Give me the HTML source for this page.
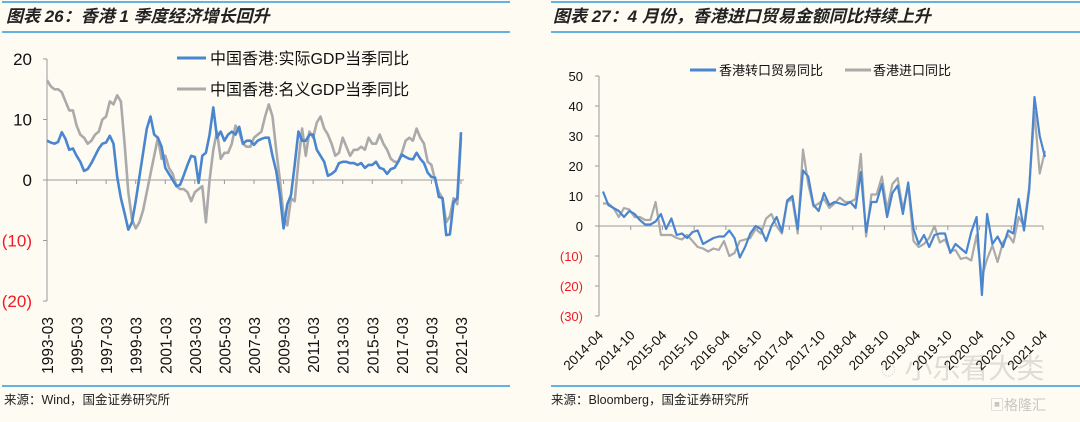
<!DOCTYPE html>
<html><head><meta charset="utf-8"><style>
html,body{margin:0;padding:0;background:#fefbf2;}
svg{display:block;font-family:"Liberation Sans","Noto Sans CJK SC",sans-serif;}
</style></head><body>
<svg id="svg" width="1080" height="422" viewBox="0 0 1080 422">
<rect width="1080" height="422" fill="#fefbf2"/>
<line x1="2" y1="2" x2="510" y2="2" stroke="#2f9be0" stroke-width="1.5"/>
<text x="6" y="22" font-size="17" font-style="italic" font-weight="bold" fill="#222">图表 26：香港 1 季度经济增长回升</text>
<line x1="2" y1="32" x2="510" y2="32" stroke="#2f9be0" stroke-width="1.5"/>
<line x1="2" y1="386" x2="510" y2="386" stroke="#2f9be0" stroke-width="1.5"/>
<text x="4" y="404" font-size="12.5" fill="#222">来源：Wind，国金证券研究所</text>
<line x1="551" y1="2" x2="1080" y2="2" stroke="#2f9be0" stroke-width="1.5"/>
<text x="553" y="22" font-size="17" font-style="italic" font-weight="bold" fill="#222">图表 27：4 月份，香港进口贸易金额同比持续上升</text>
<line x1="551" y1="32" x2="1080" y2="32" stroke="#2f9be0" stroke-width="1.5"/>
<line x1="551" y1="386" x2="1080" y2="386" stroke="#2f9be0" stroke-width="1.5"/>
<text x="551" y="404" font-size="12.5" fill="#222">来源：Bloomberg，国金证券研究所</text>
<text x="880" y="378" font-size="28" fill="#d8d6d0" opacity="0.8">◌ 小乐看大类</text>
<text x="990" y="410" font-size="14" fill="#c8c6c0">▣格隆汇</text>
<g id="left"></g>
<g id="right"></g>
</svg>
<script>
const NS="http://www.w3.org/2000/svg";
function mk(parent,tag,attrs,txt){const e=document.createElementNS(NS,tag);for(const k in attrs)e.setAttribute(k,attrs[k]);if(txt!==undefined)e.textContent=txt;parent.appendChild(e);return e;}

const leftYTicks=[20,10,0,-10,-20];
const leftYLabels=["20","10","0","(10)","(20)"];
const leftXLabels=["1993-03","1995-03","1997-03","1999-03","2001-03","2003-03","2005-03","2007-03","2009-03","2011-03","2013-03","2015-03","2017-03","2019-03","2021-03"];
const realGDP=[6.5,6.2,6.0,6.3, 7.9,6.8,5.0,5.2, 4.0,3.0,1.5,1.8, 2.8,4.0,5.2,6.0, 6.2,7.3,6.0,0.5,
 -3,-5.5,-8.2,-7.0, -3.5,0.5,4.5,8.5, 10.5,7.5,7.0,5.5, 2.0,1.0,0.0,-1.0, -0.8,0.8,2.5,4.0,
 3.8,-0.5,4.0,4.5, 7.5,12.0,7.0,8.0, 6.5,7.5,8.0,7.5, 8.8,6.0,6.5,6.5, 5.8,6.5,6.8,7.0,
 7.0,4.0,1.5,-2.5, -8,-4,-2.5,2.5, 8.0,6.5,6.5,7.5, 7.5,5.0,4.0,3.0, 0.7,1.0,1.5,2.8,
 3.0,3.0,2.8,2.8, 2.5,2.8,2.0,2.5, 2.5,3.0,2.0,1.8, 1.0,1.8,2.0,3.0, 4.2,3.8,3.5,3.4,
 4.5,3.5,2.8,1.2, 0.5,0.4,-2.8,-3.0, -9.1,-9.0,-3.6,-3.0, 7.9];
const nominalGDP=[16.5,15.5,15,15, 14.5,13,11.5,11.5, 9,7.5,7,6, 6.5,7.5,8,10, 10.5,13,12.5,14,
 13,6,-2,-6.5, -8,-7,-5,-2, 1,4,7,3.5, 4,2,1,-1, -1.5,-1.5,-2,-3.5,
 -2,-1.5,-1,-7, 0,5,8,3.5, 4.5,4.5,6,9, 8,6,5.5,5.5, 7,7.5,8,10.5,
 12.5,10.5,5,0, -6,-7.5,-3,-3.5, 3,8.5,4,8, 7,9.5,10.5,8.5, 7.5,6,4,4.5,
 7,5.5,4,5, 5,5.5,5,7, 6,6,7.5,6, 5,3.5,3,3, 4.5,6.5,7,6.5,
 8.5,7,6,3, 2.5,0,-2,-3, -7,-6,-3,-4, 7];

const rightYTicks=[50,40,30,20,10,0,-10,-20,-30];
const rightYLabels=["50","40","30","20","10","0","(10)","(20)","(30)"];
const rightXLabels=["2014-04","2014-10","2015-04","2015-10","2016-04","2016-10","2017-04","2017-10","2018-04","2018-10","2019-04","2019-10","2020-04","2020-10","2021-04"];
const reExport=[11.5,7,6,5,3,5,4,2,0.5,
 0.5,1.5,4,-1,2.5,-3,-2.5,-4,-2,-1.5,-6,-5,
 -4,-3.5,-3.5,-1.5,-4,-10.5,-7,-2.5,0,-1,-5,0,
 3,-2,8.5,10,-1,18.5,16.5,7,5,11,7,8,
 7.5,7,8,6,18,-2,8,8,14,3,11,13.5,
 4,14.5,-1,-6,-3,-7,-3,-2.5,-2.5,-9,-6,-7.5,
 -9,-2,3,-23,4,-6,-3.5,-7,-1.5,-2.5,9,-1.5,
 12,43,30,23];
const imports=[7.5,7.5,6,3,6,5.5,3,3,2,
 2,8,-3,-3,-3,-4,-4.5,-3,-5,-7,-7.5,-8.5,
 -7.5,-8,-5,-10,-9,-5,-4.5,-4,-1,-2.5,2.5,4,
 0,-2.5,8,9,-2.5,25.5,14,6.5,7.5,9,6,7.5,
 9.5,8,8,9,24,-3.5,10.5,10.5,16.5,5.5,14,16,
 5.5,13.5,-5,-7,-6,-4,0,-5.5,-4.5,-8.5,-8,-11,
 -10.5,-11.5,-3,-17,-11,-6.5,-12,-5.5,-3,-5.5,3,0,
 13,38,17.5,25];

(function(){
 const g=document.getElementById('left');
 const x0=47,x1=464,yZero=180,pxU=6.05;
 const n=realGDP.length;
 const xs=i=>x0+ (i/(n-1))*(x1-3-x0);
 const ys=v=>yZero-v*pxU;
 const ax=mk(g,'line',{x1:x0,y1:ys(20),x2:x0,y2:ys(-20),stroke:'#999','stroke-width':1});
 
 
 leftYTicks.forEach((t,i)=>{
  const tk=mk(g,'line',{x1:x0-4,y1:ys(t),x2:x0,y2:ys(t),stroke:'#999'});
  
  
  const lb=mk(g,'text',{x:32,y:ys(t)+6,'font-size':17,'text-anchor':'end',fill:t<0?'#ee1c25':'#111'},leftYLabels[i]);
  
  
 });
 const zx=mk(g,'line',{x1:x0,y1:yZero,x2:x1,y2:yZero,stroke:'#999'});
 
 
 leftXLabels.forEach((l,i)=>{
  const x=x0+i*8*(x1-3-x0)/(n-1);
  const tk=mk(g,'line',{x1:x,y1:yZero,x2:x,y2:yZero+4,stroke:'#999'});
  
  
  const lb=mk(g,'text',{x:0,y:0,'font-size':15.5,'text-anchor':'end',fill:'#111',transform:`translate(${x+6},317) rotate(-90)`},l);
  
  
 });
 const pts=a=>a.map((v,i)=>xs(i).toFixed(1)+','+ys(v).toFixed(1)).join(' ');
 const p2=mk(g,'polyline',{points:pts(nominalGDP),fill:'none',stroke:'#aaaaaa','stroke-width':2.6,'stroke-linejoin':'round'});
 
 
 const p1=mk(g,'polyline',{points:pts(realGDP),fill:'none',stroke:'#4a86d0','stroke-width':2.6,'stroke-linejoin':'round'});
 
 
 const l1=mk(g,'line',{x1:177,y1:58,x2:206,y2:58,stroke:'#4a86d0','stroke-width':3});
 
 
 const t1=mk(g,'text',{x:210,y:64,'font-size':16,fill:'#111'},'中国香港:实际GDP当季同比');
 
 
 const l2=mk(g,'line',{x1:177,y1:89,x2:206,y2:89,stroke:'#aaaaaa','stroke-width':3});
 
 
 const t2=mk(g,'text',{x:210,y:95,'font-size':16,fill:'#111'},'中国香港:名义GDP当季同比');
 
 
})();

(function(){
 const g=document.getElementById('right');
 const x0=599,x1=1043,yZero=226,pxU=3.0;
 const n=reExport.length;
 const xs=i=>x0+4+(i/(n-1))*(x1+2-x0-4);
 const ys=v=>yZero-v*pxU;
 const ax=mk(g,'line',{x1:x0,y1:ys(50),x2:x0,y2:ys(-30),stroke:'#999'});
 
 
 rightYTicks.forEach((t,i)=>{
  const tk=mk(g,'line',{x1:x0-4,y1:ys(t),x2:x0,y2:ys(t),stroke:'#999'});
  
  
  const lb=mk(g,'text',{x:583,y:ys(t)+5,'font-size':13,'text-anchor':'end',fill:t<0?'#ee1c25':'#111'},rightYLabels[i]);
  
  
 });
 const zx=mk(g,'line',{x1:x0,y1:yZero,x2:x1,y2:yZero,stroke:'#999'});
 
 
 rightXLabels.forEach((l,i)=>{
  const x=x0+i*(x1-x0)/(rightXLabels.length-1);
  const tk=mk(g,'line',{x1:x,y1:yZero,x2:x,y2:yZero+4,stroke:'#999'});
  
  
  const lb=mk(g,'text',{x:0,y:0,'font-size':13.5,'text-anchor':'end',fill:'#111',transform:`translate(${x+5},336) rotate(-45)`},l);
  
  
 });
 const pts=a=>a.map((v,i)=>xs(i).toFixed(1)+','+ys(v).toFixed(1)).join(' ');
 const p2=mk(g,'polyline',{points:pts(imports),fill:'none',stroke:'#aaaaaa','stroke-width':2.2,'stroke-linejoin':'round'});
 
 
 const p1=mk(g,'polyline',{points:pts(reExport),fill:'none',stroke:'#4a86d0','stroke-width':2.2,'stroke-linejoin':'round'});
 
 
 const l1=mk(g,'line',{x1:690,y1:70,x2:716,y2:70,stroke:'#4a86d0','stroke-width':3});
 
 
 const t1=mk(g,'text',{x:719,y:75,'font-size':13,fill:'#111'},'香港转口贸易同比');
 
 
 const l2=mk(g,'line',{x1:845,y1:70,x2:871,y2:70,stroke:'#aaaaaa','stroke-width':3});
 
 
 const t2=mk(g,'text',{x:873,y:75,'font-size':13,fill:'#111'},'香港进口同比');
 
 
})();
</script>
</body></html>
